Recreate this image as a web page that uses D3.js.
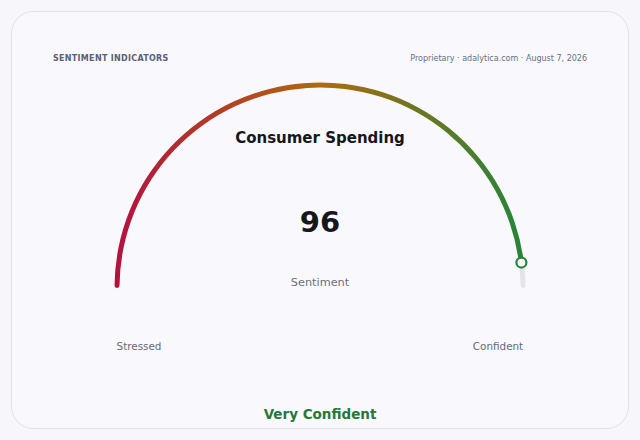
<!DOCTYPE html>
<html>
<head>
<meta charset="utf-8">
<script src="https://cdn.jsdelivr.net/npm/d3@7"></script>
<style>
  html, body { margin: 0; padding: 0; background: #f7f7fb; }
  svg { display: block; font-family: "DejaVu Sans", sans-serif; }
</style>
</head>
<body>
<svg id="chart" width="640" height="440"></svg>
<script>
// gauge data
let gaugeTitle = "Consumer Spending"
let gaugeValue = 96
let gaugeDomain = [0, 100]
let gaugeEndLabels = ["Stressed", "Confident"]
let gaugeUnit = "Sentiment"
let gaugeStatus = "Very Confident"
let gradientStops = [
    {offset: "0%", color: "#b3123f"},
    {offset: "50%", color: "#b0690e"},
    {offset: "100%", color: "#26843a"}
]

let svg = d3.select("#chart")

let cx = 320
let cy = 288
let radius = 203
let thick = 5

// card
svg.append("rect")
    .attr("x", 11.5)
    .attr("y", 11.5)
    .attr("width", 617)
    .attr("height", 417)
    .attr("rx", 22)
    .attr("fill", "#f9f9fd")
    .attr("stroke", "#e1e1ea")

svg.append("text")
    .attr("x", 53)
    .attr("y", 61)
    .attr("font-size", 8)
    .attr("font-weight", "bold")
    .attr("letter-spacing", 0.3)
    .attr("fill", "#5b6075")
    .text("SENTIMENT INDICATORS")

svg.append("text")
    .attr("x", 587)
    .attr("y", 61)
    .attr("text-anchor", "end")
    .attr("font-size", 8)
    .attr("fill", "#6a6e80")
    .text("Proprietary · adalytica.com · August 7, 2026")

let angle = d3.scaleLinear()
    .domain(gaugeDomain)
    .range([-Math.PI / 2, Math.PI / 2])

let grad = svg.append("defs").append("linearGradient")
    .attr("id", "gaugeGrad")
    .attr("gradientUnits", "userSpaceOnUse")
    .attr("x1", -radius)
    .attr("y1", 0)
    .attr("x2", radius)
    .attr("y2", 0)
grad.selectAll("stop")
    .data(gradientStops)
    .enter()
    .append("stop")
    .attr("offset", d => d.offset)
    .attr("stop-color", d => d.color)

let arc = d3.arc()
    .innerRadius(radius - thick / 2)
    .outerRadius(radius + thick / 2)
    .cornerRadius(thick / 2)

let g = svg.append("g").attr("transform", `translate(${cx},${cy})`)

// track (remaining part)
g.append("path")
    .attr("d", arc({startAngle: angle(gaugeValue), endAngle: angle(gaugeDomain[1])}))
    .attr("fill", "#e3e3ea")

// value arc
g.append("path")
    .attr("d", arc({startAngle: angle(gaugeDomain[0]), endAngle: angle(gaugeValue)}))
    .attr("fill", "url(#gaugeGrad)")

// marker
let ma = angle(gaugeValue)
g.append("circle")
    .attr("cx", radius * Math.sin(ma))
    .attr("cy", -radius * Math.cos(ma))
    .attr("r", 5)
    .attr("fill", "#ffffff")
    .attr("stroke", "#26843a")
    .attr("stroke-width", 2.2)

svg.append("text")
    .attr("x", cx)
    .attr("y", 143)
    .attr("text-anchor", "middle")
    .attr("font-size", 15)
    .attr("font-weight", "bold")
    .attr("fill", "#16171d")
    .text(gaugeTitle)

svg.append("text")
    .attr("x", cx)
    .attr("y", 232)
    .attr("text-anchor", "middle")
    .attr("font-size", 29)
    .attr("font-weight", "bold")
    .attr("fill", "#16171d")
    .text(gaugeValue)

svg.append("text")
    .attr("x", cx)
    .attr("y", 286)
    .attr("text-anchor", "middle")
    .attr("font-size", 11.3)
    .attr("fill", "#6a6e7c")
    .text(gaugeUnit)

svg.selectAll(".end-label")
    .data(gaugeEndLabels)
    .enter()
    .append("text")
    .attr("class", "end-label")
    .attr("x", (d, i) => i === 0 ? 139 : 498)
    .attr("y", 350)
    .attr("text-anchor", "middle")
    .attr("font-size", 10.4)
    .attr("fill", "#666a78")
    .text(d => d)

svg.append("text")
    .attr("x", cx)
    .attr("y", 419)
    .attr("text-anchor", "middle")
    .attr("font-size", 13.5)
    .attr("font-weight", "bold")
    .attr("fill", "#26773a")
    .text(gaugeStatus)
</script>
</body>
</html>
